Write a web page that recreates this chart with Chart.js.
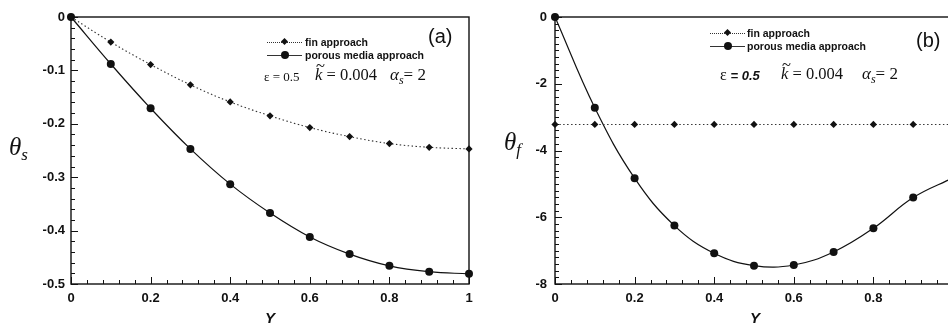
<!DOCTYPE html>
<html>
<head>
<meta charset="utf-8">
<script src="https://cdn.jsdelivr.net/npm/chart.js@4.4.1/dist/chart.umd.min.js"></script>
<style>
  html, body { margin:0; padding:0; background:#fff; }
  #wrap { position:relative; width:948px; height:326px; overflow:hidden; background:#fff; }
  canvas { position:absolute; top:0; }
  .t { position:absolute; white-space:nowrap; color:#111; }
  .leg { font-family:"Liberation Sans", Arial, sans-serif; font-weight:bold; font-size:10.5px; line-height:12px; }
  .serif { font-family:"Liberation Serif", "Times New Roman", serif; }
  .ax { font-family:"Liberation Sans", Arial, sans-serif; font-weight:bold; font-style:italic; font-size:15px; }
  .panel { font-family:"Liberation Sans", Arial, sans-serif; font-size:20px; line-height:22px; }
  .samp { position:absolute; height:0; width:35px; }
  .dia { position:absolute; width:5px; height:5px; background:#111; transform:rotate(45deg); }
  .dot { position:absolute; width:8px; height:8px; border-radius:50%; background:#111; }
  .kt { position:relative; display:inline-block; }
  .kt .tl { position:absolute; left:1px; top:-9px; font-style:normal; }
</style>
</head>
<body>
<div id="wrap">
  <canvas id="ca" width="480" height="326" style="left:0"></canvas>
  <canvas id="cb" width="500" height="326" style="left:480px"></canvas>

  <!-- panel (a) annotations -->
  <div class="samp" style="left:267px;top:42px;border-top:1px dotted #333"></div>
  <div class="dia" style="left:282px;top:39px"></div>
  <div class="samp" style="left:267px;top:55px;border-top:1.3px solid #333"></div>
  <div class="dot" style="left:281px;top:51px"></div>
  <div class="t leg" style="left:305px;top:36px">fin approach</div>
  <div class="t leg" style="left:305px;top:49px">porous media approach</div>
  <div class="t panel" style="left:428px;top:25px">(a)</div>
  <div class="t serif" style="left:264px;top:68px;font-size:13px;line-height:18px">ε = 0.5</div>
  <div class="t serif" style="left:315px;top:65px;font-size:16.5px;line-height:20px"><span class="kt"><i>k</i><span class="tl">~</span></span>&nbsp;= 0.004</div>
  <div class="t serif" style="left:390px;top:65px;font-size:17px;line-height:20px"><i>α</i><sub style="font-size:12px"><i>s</i></sub>= 2</div>
  <div class="t serif" style="left:9px;top:133px;font-size:25px;line-height:28px"><i>θ</i><sub style="font-size:17px;vertical-align:-5px"><i>s</i></sub></div>
  <div class="t ax" style="left:265px;top:309px">Y</div>

  <!-- panel (b) annotations -->
  <div class="samp" style="left:710px;top:33px;border-top:1px dotted #333"></div>
  <div class="dia" style="left:725px;top:30px"></div>
  <div class="samp" style="left:710px;top:46px;border-top:1.3px solid #333"></div>
  <div class="dot" style="left:724px;top:42px"></div>
  <div class="t leg" style="left:747px;top:27px">fin approach</div>
  <div class="t leg" style="left:747px;top:40px">porous media approach</div>
  <div class="t panel" style="left:916px;top:29px">(b)</div>
  <div class="t" style="left:720px;top:65px;font-size:15px;line-height:20px"><span class="serif" style="font-size:16px">ε</span> <span style="font-family:'Liberation Sans',Arial,sans-serif;font-weight:bold;font-style:italic;font-size:13px">= 0.5</span></div>
  <div class="t serif" style="left:781px;top:64px;font-size:16.5px;line-height:20px"><span class="kt"><i>k</i><span class="tl">~</span></span>&nbsp;= 0.004</div>
  <div class="t serif" style="left:862px;top:64px;font-size:17px;line-height:20px"><i>α</i><sub style="font-size:12px"><i>s</i></sub>= 2</div>
  <div class="t serif" style="left:504px;top:128px;font-size:25px;line-height:28px"><i>θ</i><sub style="font-size:17px;vertical-align:-5px"><i>f</i></sub></div>
  <div class="t ax" style="left:750px;top:309px">Y</div>
</div>

<script>
// ---------- data ----------
const Yvals = [0, 0.1, 0.2, 0.3, 0.4, 0.5, 0.6, 0.7, 0.8, 0.9, 1.0];

// panel (a): theta_s
const finA     = [0, -0.047, -0.089, -0.127, -0.159, -0.185, -0.207, -0.224, -0.237, -0.244, -0.247];
const porousA  = [0, -0.088, -0.171, -0.247, -0.313, -0.367, -0.412, -0.444, -0.466, -0.477, -0.481];

// panel (b): theta_f
const finB     = [-3.22, -3.22, -3.22, -3.22, -3.22, -3.22, -3.22, -3.22, -3.22, -3.22, -3.22];
const porousB  = [0, -2.72, -4.83, -6.25, -7.08, -7.45, -7.43, -7.04, -6.33, -5.41, -4.82];

const xTickValues  = [0, 0.2, 0.4, 0.6, 0.8, 1];
const yTickValuesA = [0, -0.1, -0.2, -0.3, -0.4, -0.5];
const yTickValuesB = [0, -2, -4, -6, -8];

// ---------- helpers ----------
const pts = (xs, ys) => xs.map((x, i) => ({ x: x, y: ys[i] }));
const INK = '#111';

const framePlugin = {
  id: 'frame',
  beforeDatasetsDraw(chart, args, o) {
    const { ctx, chartArea: a, scales } = chart;
    const x = scales.x, y = scales.y;
    ctx.save();
    ctx.strokeStyle = INK;
    ctx.lineWidth = 1.4;
    ctx.strokeRect(a.left, a.top, a.right - a.left, a.bottom - a.top);
    ctx.lineWidth = 1;
    ctx.beginPath();
    const nx = Math.round((x.max - x.min) / o.xMinor);
    for (let i = 0; i <= nx; i++) {
      const v = x.min + i * o.xMinor;
      const major = i % o.xPer === 0;
      const px = Math.round(x.getPixelForValue(v)) + 0.5;
      ctx.moveTo(px, a.bottom);
      ctx.lineTo(px, a.bottom - (major ? 7 : 4));
    }
    const ny = Math.round((y.max - y.min) / o.yMinor);
    for (let i = 0; i <= ny; i++) {
      const v = y.max - i * o.yMinor;
      const major = i % o.yPer === 0;
      const py = Math.round(y.getPixelForValue(v)) + 0.5;
      ctx.moveTo(a.left, py);
      ctx.lineTo(a.left + (major ? 7 : 4), py);
    }
    ctx.stroke();
    ctx.restore();
  }
};

const tickFont = { family: '"Liberation Sans", Arial, sans-serif', weight: 'bold', size: 13 };

function makeChart(id, fin, porous, yMin, yMax, yTicks, yFmt, yWidth, padRight, yPad, minorCfg) {
  return new Chart(document.getElementById(id), {
    type: 'line',
    data: {
      datasets: [
        {
          label: 'fin approach',
          data: pts(Yvals, fin),
          borderColor: '#333', borderWidth: 1.1, borderDash: [1.5, 2.5],
          pointStyle: 'rectRot', pointRadius: 3.6, pointBackgroundColor: INK, pointBorderColor: INK, pointBorderWidth: 0,
          tension: 0.4, clip: false
        },
        {
          label: 'porous media approach',
          data: pts(Yvals, porous),
          borderColor: INK, borderWidth: 1.2,
          pointStyle: 'circle', pointRadius: 4, pointBackgroundColor: INK, pointBorderColor: INK, pointBorderWidth: 0,
          tension: 0.4, clip: false
        }
      ]
    },
    options: {
      responsive: false, animation: false, devicePixelRatio: 1,
      layout: { padding: { top: 17, right: padRight, left: 0, bottom: 0 } },
      plugins: { legend: { display: false }, tooltip: { enabled: false }, frame: minorCfg },
      scales: {
        x: {
          type: 'linear', min: 0, max: 1,
          afterBuildTicks: s => { s.ticks = xTickValues.map(v => ({ value: v })); },
          afterFit: s => { s.height = 42; },
          grid: { display: false, drawTicks: false }, border: { display: false },
          ticks: { font: tickFont, color: INK, padding: 7, maxRotation: 0,
                   callback: v => (v === 0 ? '0' : v === 1 ? '1' : v.toFixed(1)) }
        },
        y: {
          type: 'linear', min: yMin, max: yMax,
          afterBuildTicks: s => { s.ticks = yTicks.map(v => ({ value: v })); },
          afterFit: s => { s.width = yWidth; },
          grid: { display: false, drawTicks: false }, border: { display: false },
          ticks: { font: tickFont, color: INK, padding: yPad, callback: yFmt }
        }
      }
    },
    plugins: [framePlugin]
  });
}

makeChart('ca', finA, porousA, -0.5, 0, yTickValuesA,
  v => (v === 0 ? '0' : v.toFixed(1)), 71, 11, 6,
  { xMinor: 0.04, xPer: 5, yMinor: 0.02, yPer: 5 });

makeChart('cb', finB, porousB, -8, 0, yTickValuesB,
  v => (v === 0 ? '0' : String(v)), 75, 27, 8,
  { xMinor: 0.04, xPer: 5, yMinor: 0.2, yPer: 10 });
</script>
</body>
</html>
